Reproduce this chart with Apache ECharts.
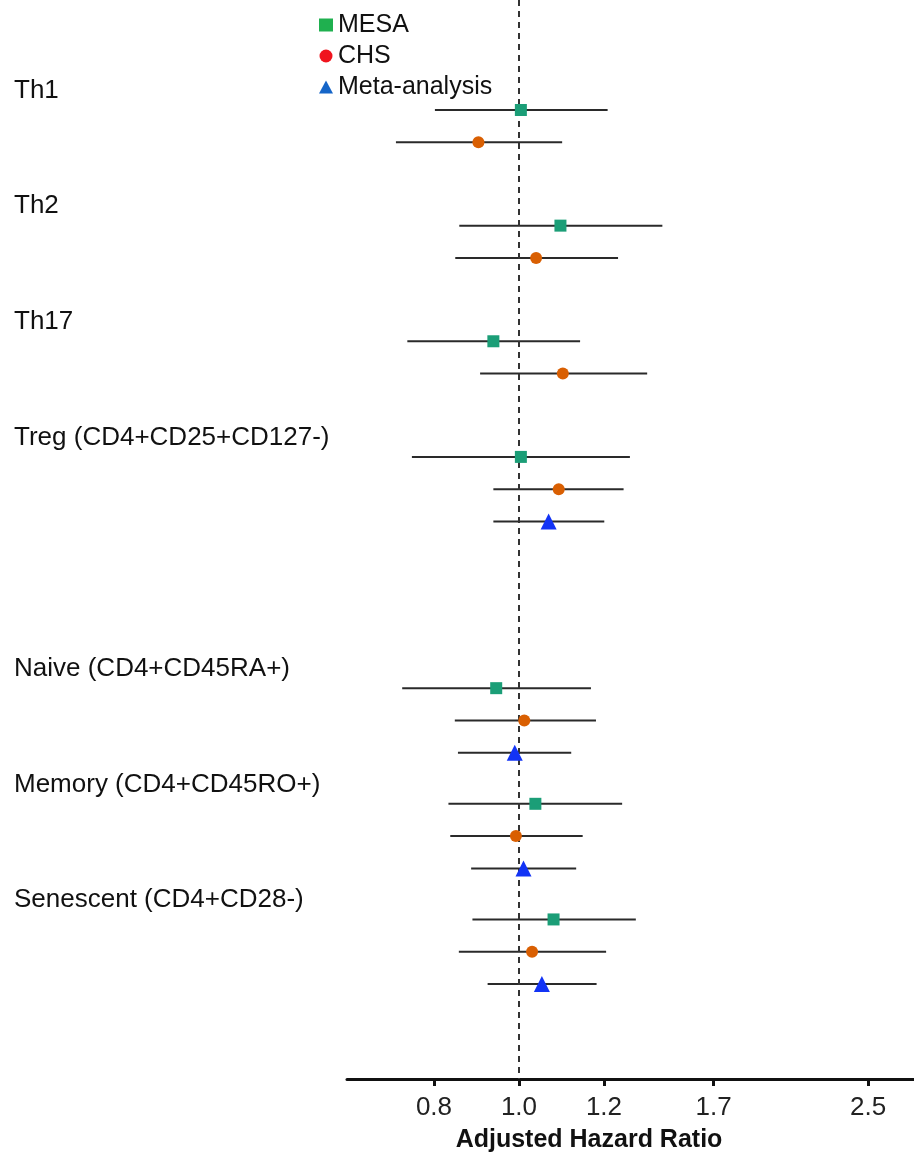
<!DOCTYPE html>
<html>
<head>
<meta charset="utf-8">
<script src="https://cdn.jsdelivr.net/npm/echarts@6/dist/echarts.min.js"></script>
<style>
html,body{margin:0;padding:0;background:#fff;}
#chart{width:914px;height:1161px;}
</style>
</head>
<body>
<div id="chart"></div>
<script>
// ---- data ----
const groups = ['Th1', 'Th2', 'Th17', 'Treg (CD4+CD25+CD127-)', 'Naive (CD4+CD45RA+)', 'Memory (CD4+CD45RO+)', 'Senescent (CD4+CD28-)'];
const groupSlots = [0, 1, 2, 3, 5, 6, 7];
const mesaHR = [1.005, 1.115, 0.935, 1.005, 0.942, 1.044, 1.095];
const mesaLo = [0.802, 0.855, 0.746, 0.755, 0.736, 0.831, 0.885];
const mesaHi = [1.262, 1.457, 1.174, 1.338, 1.208, 1.311, 1.359];
const chsHR = [0.899, 1.046, 1.122, 1.110, 1.014, 0.992, 1.035];
const chsLo = [0.724, 0.846, 0.903, 0.935, 0.845, 0.835, 0.854];
const chsHi = [1.120, 1.297, 1.400, 1.316, 1.224, 1.182, 1.257];
const metaHR = [null, null, null, 1.081, 0.989, 1.012, 1.062];
const metaLo = [null, null, null, 0.935, 0.852, 0.882, 0.921];
const metaHi = [null, null, null, 1.251, 1.147, 1.162, 1.226];
const tickValues = [0.8, 1.0, 1.25, 1.667, 2.5];
const tickLabels = ['0.8', '1.0', '1.2', '1.7', '2.5'];
const seriesNames = ['MESA', 'CHS', 'Meta-analysis'];

// ---- layout helpers ----
const SLOT = 3.58;        // rows per group slot
const LABEL_SHIFT = -0.6; // group label above first row
const FONT = "'Liberation Sans', Arial, Helvetica, sans-serif";
const ln = Math.log;

const studies = [
  {hr: mesaHR, lo: mesaLo, hi: mesaHi, color: '#1b9e77', symbol: 'rect', size: 12},
  {hr: chsHR, lo: chsLo, hi: chsHi, color: '#d95f02', symbol: 'circle', size: 12},
  {hr: metaHR, lo: metaLo, hi: metaHi, color: '#1233f5', symbol: 'triangle', size: 16}
];
const legendColors = ['#1fb04f', '#f0141e', '#1565c8'];

const barData = [];
const pointSeries = [];
studies.forEach((s, si) => {
  const pts = [];
  groups.forEach((g, gi) => {
    if (s.hr[gi] == null) return;
    const y = groupSlots[gi] * SLOT + si;
    barData.push([ln(s.lo[gi]), ln(s.hi[gi]), y]);
    pts.push([ln(s.hr[gi]), y]);
  });
  pointSeries.push({
    name: seriesNames[si],
    type: 'scatter',
    symbol: s.symbol,
    symbolSize: s.size,
    itemStyle: {color: s.color, opacity: 1},
    data: pts,
    z: 5
  });
});

const labelValues = groupSlots.map(s => s * SLOT + LABEL_SHIFT);
const tickLn = tickValues.map(v => ln(v));

const chart = echarts.init(document.getElementById('chart'), null, {renderer: 'canvas'});
chart.setOption({
  animation: false,
  backgroundColor: '#fff',
  textStyle: {fontFamily: FONT},
  grid: {left: 347, right: 0, top: 0, bottom: 82, containLabel: false},
  title: {
    text: 'Adjusted Hazard Ratio',
    left: 584, top: 1123, textAlign: 'center',
    textStyle: {fontFamily: FONT, fontSize: 25, fontWeight: 'bold', color: '#111'}
  },
  legend: {
    orient: 'vertical', left: 314, top: 6,
    itemWidth: 14, itemHeight: 13, itemGap: 3,
    textStyle: {fontFamily: FONT, fontSize: 25, color: '#111', lineHeight: 28},
    data: seriesNames.map((n, i) => ({name: n, itemStyle: {color: legendColors[i]}}))
  },
  xAxis: {
    type: 'value',
    min: -0.4514, max: 1.0369,
    axisLine: {show: true, onZero: false, lineStyle: {color: '#111', width: 3}},
    axisTick: {show: true, length: 7, lineStyle: {color: '#111', width: 3}, customValues: tickLn},
    axisLabel: {
      customValues: tickLn, margin: 16,
      fontFamily: FONT, fontSize: 26, color: '#222',
      formatter: v => {
        let best = 0;
        tickLn.forEach((t, i) => { if (Math.abs(t - v) < Math.abs(tickLn[best] - v)) best = i; });
        return tickLabels[best];
      }
    },
    splitLine: {show: false}
  },
  yAxis: {
    type: 'value', inverse: true,
    min: -110 / 32.3, max: (1079 - 110) / 32.3,
    axisLine: {show: false}, axisTick: {show: false}, splitLine: {show: false},
    axisLabel: {
      customValues: labelValues, align: 'left', margin: 333,
      fontFamily: FONT, fontSize: 26, color: '#111',
      formatter: v => {
        let best = 0;
        labelValues.forEach((t, i) => { if (Math.abs(t - v) < Math.abs(labelValues[best] - v)) best = i; });
        return groups[best];
      }
    }
  },
  series: [
    {
      name: 'CI',
      type: 'custom',
      data: barData,
      encode: {x: [0, 1], y: 2},
      z: 2,
      silent: true,
      renderItem: (params, api) => {
        const a = api.coord([api.value(0), api.value(2)]);
        const b = api.coord([api.value(1), api.value(2)]);
        return {type: 'line', shape: {x1: a[0], y1: a[1], x2: b[0], y2: b[1]},
          style: {stroke: '#2a2a2a', lineWidth: 2}};
      },
      markLine: {
        silent: true, symbol: 'none', label: {show: false},
        lineStyle: {type: [6, 5], color: '#333', width: 2},
        data: [{xAxis: 0}]
      }
    }
  ].concat(pointSeries)
});
</script>
</body>
</html>
